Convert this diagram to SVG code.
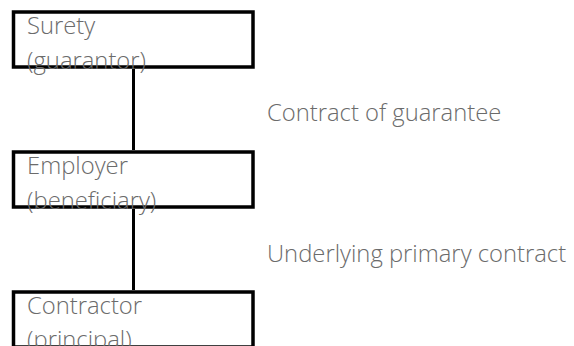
<svg xmlns="http://www.w3.org/2000/svg" width="574" height="346" viewBox="0 0 574 346">
<style>
.box{fill:#fff;stroke:#000;stroke-width:3.5}
.conn{stroke:#000;stroke-width:3;fill:none}
.t{font-family:"Open Sans","Noto Sans","Liberation Sans",sans-serif;font-weight:300;font-size:23.8px;fill:#6b6b6b}
</style>
<rect width="574" height="346" fill="#fff"/>
<g id="connectors">
<line class="conn" x1="133.5" y1="69" x2="133.5" y2="150"/>
<line class="conn" x1="133.5" y1="209" x2="133.5" y2="290"/>
</g>
<g id="surety">
<rect class="box" x="13.5" y="12" width="239.5" height="55"/>
<text class="t" x="27" y="34">Surety</text>
<text class="t" x="27" y="69">(guarantor)</text>
</g>
<g id="employer">
<rect class="box" x="13.5" y="152" width="239.5" height="55"/>
<text class="t" x="27" y="174">Employer</text>
<text class="t" x="27" y="209">(beneficiary)</text>
</g>
<g id="contractor">
<rect class="box" x="13.5" y="292" width="239.5" height="55"/>
<text class="t" x="27" y="314">Contractor</text>
<text class="t" x="27" y="348">(principal)</text>
</g>
<g id="labels">
<text class="t" x="267" y="121">Contract of guarantee</text>
<text class="t" x="267" y="262">Underlying primary contract</text>
</g>
</svg>
